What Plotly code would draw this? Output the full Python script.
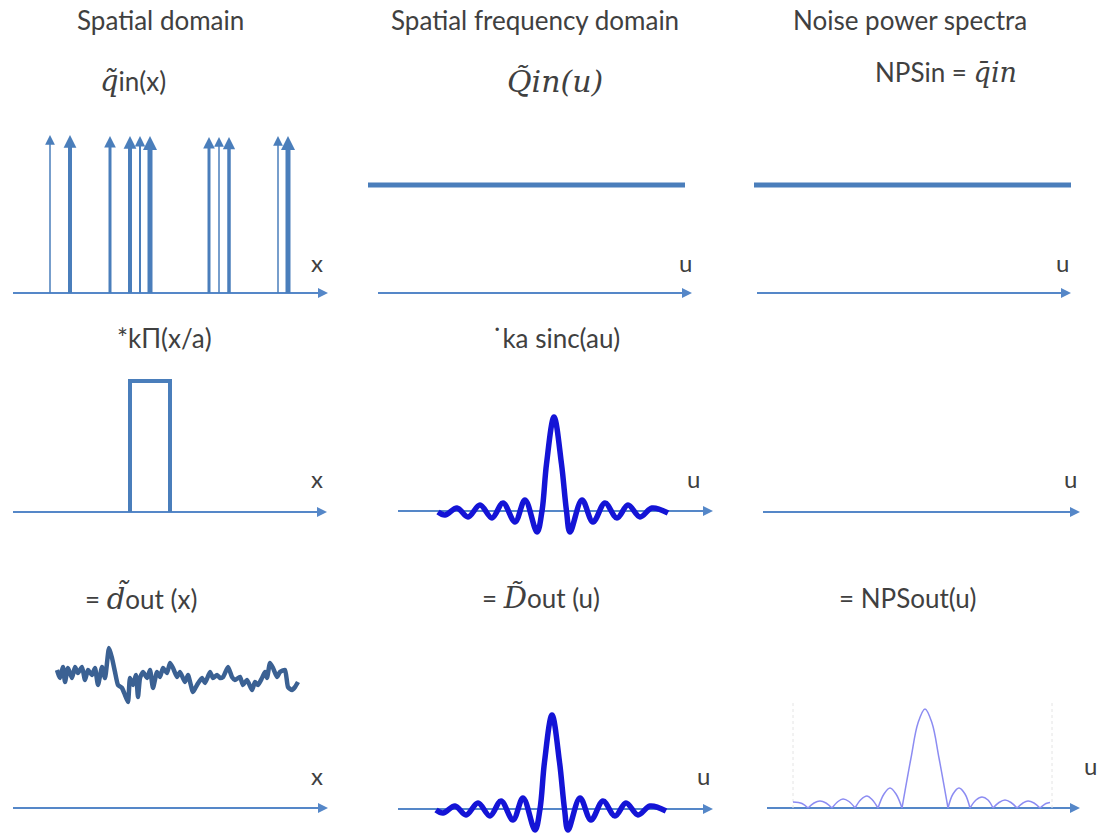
import plotly.graph_objects as go

W, H = 1102, 833
INK = "#404040"
BLUE = "#4a7ebb"
AXIS_BLUE = "#5587c8"
SINC_BLUE = "#1414d6"
NOISE_BLUE = "#3b6193"
NPS_BLUE = "#8c8cf2"
SANS = "Lato"
SERIF = "DejaVu Serif"

# ---------------- data ----------------
# incident quanta: positions along x and (equal) impulse heights
QUANTA_X = [3.7, 5.7, 9.7, 11.7, 12.7, 13.7, 19.6, 20.6, 21.6, 26.5, 27.5]
QUANTA_H = [1.58, 1.58, 1.57, 1.57, 1.57, 1.57, 1.56, 1.56, 1.56, 1.57, 1.57]
# stroke widths of the individual impulses (style)
QUANTA_W = [1.5, 4, 3, 4, 2, 5, 3, 1.5, 3.5, 1.5, 5]

# flat (white) spectra of the input
QIN_U = [-1.0, 30.7]
QIN_V = [1.08, 1.08]
NPSIN_U = [-0.3, 31.4]
NPSIN_V = [1.08, 1.08]

# rectangular aperture k*Pi(x/a)
RECT_X = [11.7, 11.7, 15.7, 15.7]
RECT_Y = [0.0, 1.31, 1.31, 0.0]

# transfer function ka*sinc(au): extrema and zero crossings
SINC_U = [-11.6, -10.9, -9.7, -8.6, -7.4, -6.2, -5.1, -3.9, -2.9, -1.7, -1.2,
          -0.75, 0.0, 0.75, 1.25, 1.6, 2.8, 3.9, 5.1, 6.3, 7.4, 8.6, 9.8, 11.4]
SINC_V = [-0.01, -0.04, 0.03, -0.06, 0.06, -0.07, 0.08, -0.11, 0.11, -0.21, 0.0,
          0.47, 0.94, 0.47, 0.0, -0.21, 0.11, -0.11, 0.08, -0.07, 0.06, -0.06, 0.03, -0.02]

# output spectrum D(u) = Q(u) * ka sinc(au)  (flat input -> same shape)
DOUT_U = SINC_U
DOUT_V = SINC_V

# output image d(x): noisy realisation
NOISE_X = [4.4, 4.7, 5.0, 5.2, 5.5, 5.9, 6.2, 6.5, 6.9, 7.2, 7.5, 7.9, 8.2, 8.5, 8.9,
           9.2, 9.6, 9.9, 10.2, 10.5, 10.9, 11.2, 11.5, 11.7, 12.0, 12.3, 12.5, 12.7,
           13.0, 13.4, 13.7, 14.0, 14.4, 14.7, 15.0, 15.4, 15.7, 16.0, 16.4, 16.7,
           17.2, 17.5, 18.0, 18.4, 18.9, 19.2, 19.7, 20.0, 20.4, 20.7, 21.0, 21.5,
           21.9, 22.2, 22.7, 23.0, 23.4, 23.9, 24.2, 24.5, 24.9, 25.2, 25.4, 25.7,
           26.0, 26.4, 26.7, 27.2, 27.5, 27.9, 28.2, 28.5]
NOISE_Y = [1.38, 1.30, 1.41, 1.26, 1.40, 1.30, 1.41, 1.35, 1.41, 1.28, 1.38, 1.33,
           1.40, 1.23, 1.41, 1.30, 1.60, 1.50, 1.36, 1.23, 1.20, 1.13, 1.06, 1.30,
           1.23, 1.33, 1.11, 1.30, 1.36, 1.30, 1.38, 1.20, 1.36, 1.31, 1.40, 1.35,
           1.45, 1.40, 1.31, 1.36, 1.26, 1.33, 1.16, 1.23, 1.30, 1.25, 1.36, 1.30,
           1.33, 1.30, 1.31, 1.41, 1.31, 1.28, 1.31, 1.23, 1.28, 1.18, 1.26, 1.23,
           1.30, 1.36, 1.30, 1.45, 1.40, 1.31, 1.36, 1.38, 1.21, 1.18, 1.21, 1.26]

# output noise power spectrum: one arch per lobe (None separates lobes)
NPS_U = [-13.2, -12.3, -11.7, None,
         -11.7, -11.1, -10.5, -9.9, -9.3, None,
         -9.3, -8.7, -8.2, -7.6, -7.0, None,
         -7.0, -6.4, -5.8, -5.3, -4.7, None,
         -4.7, -4.1, -3.5, -2.9, -2.3, None,
         -2.3, -1.4, -0.7, 0.0, 0.7, 1.4, 2.3, None,
         2.3, 2.8, 3.4, 4.0, 4.5, None,
         4.5, 5.1, 5.7, 6.3, 6.8, None,
         6.8, 7.4, 8.0, 8.6, 9.2, None,
         9.2, 9.8, 10.3, 10.9, 11.5, None,
         11.5, 12.1, 12.5]
NPS_V = [0.06, 0.045, 0.0, None,
         0.0, 0.05, 0.07, 0.05, 0.0, None,
         0.0, 0.065, 0.09, 0.065, 0.0, None,
         0.0, 0.085, 0.12, 0.085, 0.0, None,
         0.0, 0.14, 0.20, 0.14, 0.0, None,
         0.0, 0.50, 0.85, 0.99, 0.85, 0.50, 0.0, None,
         0.0, 0.14, 0.20, 0.14, 0.0, None,
         0.0, 0.08, 0.11, 0.08, 0.0, None,
         0.0, 0.055, 0.08, 0.055, 0.0, None,
         0.0, 0.05, 0.07, 0.05, 0.0, None,
         0.0, 0.045, 0.055]
NPS_FRAME_U = [-13.2, 12.7]

# ---------------- panel geometry ----------------
# each panel: pixel origin of its data x=0, pixel baseline, axis arrow extent
PANELS = [
    dict(px0=13,  base=293, a0=0.0,   a1=31.5),   # 1 quanta
    dict(px0=378, base=293, a0=0.0,   a1=31.4),   # 2 Q(u)
    dict(px0=757, base=293, a0=0.0,   a1=31.4),   # 3 NPS in
    dict(px0=13,  base=512, a0=0.0,   a1=31.4),   # 4 aperture
    dict(px0=554, base=511, a0=-15.6, a1=15.9),   # 5 sinc
    dict(px0=763, base=512, a0=0.0,   a1=31.7),   # 6 empty
    dict(px0=13,  base=808, a0=0.0,   a1=31.5),   # 7 d(x)
    dict(px0=552, base=809, a0=-15.4, a1=16.1),   # 8 D(u)
    dict(px0=925, base=808, a0=-15.8, a1=15.5),   # 9 NPS out
]
XS, YS = 10.0, 100.0   # pixels per data unit

fig = go.Figure()
layout = {}


def ids(i):
    return ("x" if i == 1 else f"x{i}", "y" if i == 1 else f"y{i}")


for i, p in enumerate(PANELS, start=1):
    xk = "xaxis" if i == 1 else f"xaxis{i}"
    yk = "yaxis" if i == 1 else f"yaxis{i}"
    xa = dict(domain=[0, 1], range=[-p["px0"] / XS, (W - p["px0"]) / XS],
              visible=False, fixedrange=True)
    ya = dict(domain=[0, 1], range=[(p["base"] - H) / YS, p["base"] / YS],
              visible=False, fixedrange=True)
    if i > 1:
        xa["overlaying"] = "x"
        ya["overlaying"] = "y"
    layout[xk] = xa
    layout[yk] = ya


def add(i, x, y, **kw):
    xa, ya = ids(i)
    kw.setdefault("hoverinfo", "skip")
    fig.add_trace(go.Scatter(x=x, y=y, xaxis=xa, yaxis=ya, showlegend=False, **kw))


# horizontal axis arrows
HEAD = 10
for i, p in enumerate(PANELS, start=1):
    add(i, [p["a0"], p["a1"] - 0.4], [0, 0], mode="lines",
        line=dict(color=AXIS_BLUE, width=2))
    add(i, [p["a1"]], [0], mode="markers",
        marker=dict(symbol="arrow-right", size=HEAD, color=AXIS_BLUE, line=dict(width=0)))

# panel 1: impulses
for xq, hq, wq in zip(QUANTA_X, QUANTA_H, QUANTA_W):
    s = 8 + 1.2 * wq
    add(1, [xq, xq], [0, hq - 0.5 * s / YS], mode="lines",
        line=dict(color=BLUE, width=wq))
    add(1, [xq], [hq], mode="markers",
        marker=dict(symbol="arrow-up", size=s, color=BLUE, line=dict(width=0)))

# panel 2 / 3: flat spectra
add(2, QIN_U, QIN_V, mode="lines", line=dict(color=BLUE, width=5))
add(3, NPSIN_U, NPSIN_V, mode="lines", line=dict(color=BLUE, width=5))

# panel 4: aperture
add(4, RECT_X, RECT_Y, mode="lines", line=dict(color=BLUE, width=4))

# panel 5 / 8: sinc transfer and output spectrum
add(5, SINC_U, SINC_V, mode="lines",
    line=dict(color=SINC_BLUE, width=5.5, shape="spline", smoothing=1.0))
add(8, DOUT_U, DOUT_V, mode="lines",
    line=dict(color=SINC_BLUE, width=5.5, shape="spline", smoothing=1.0))

# panel 7: noisy output
add(7, NOISE_X, NOISE_Y, mode="lines",
    line=dict(color=NOISE_BLUE, width=4.5, shape="spline", smoothing=0.5))

# panel 9: output NPS with faint frame
for uf in NPS_FRAME_U:
    add(9, [uf, uf], [0.0, 1.08], mode="lines",
        line=dict(color="#e4e4e4", width=1, dash="dot"))
add(9, NPS_U, NPS_V, mode="lines", connectgaps=False,
    line=dict(color=NPS_BLUE, width=1.5, shape="spline", smoothing=1.0))

# ---------------- text ----------------
ann = []
TXT = 26
MATH = 29


def paper_text(px, py, text, size=TXT, family=SANS):
    ann.append(dict(x=px / W, y=1 - py / H, xref="paper", yref="paper", text=text,
                    showarrow=False, xanchor="center", yanchor="middle",
                    font=dict(family=family, size=size, color=INK)))


def axis_text(i, x, y, text):
    xa, ya = ids(i)
    ann.append(dict(x=x, y=y, xref=xa, yref=ya, text=text, showarrow=False,
                    xanchor="center", yanchor="middle",
                    font=dict(family=SANS, size=24, color=INK)))


def ser(t, size=MATH):
    return f"<span style=\"font-family:'{SERIF}';font-size:{size}px\"><i>{t}</i></span>"


paper_text(160, 20, "Spatial domain")
paper_text(535, 20, "Spatial frequency domain")
paper_text(910, 20, "Noise power spectra")

paper_text(133, 81, ser("q\u0303") + "in(x)")
paper_text(555, 81, ser("Q\u0303in(u)", 30))
paper_text(946, 72, "NPSin = " + ser("q\u0304in", 27))

paper_text(164, 338, "*k\u03a0(x/a)")
paper_text(556, 338, "\u02d9ka sinc(au)")

paper_text(141, 598, "= " + ser("d\u0303") + "out (x)")
paper_text(541, 598, "= " + ser("D\u0303") + "out (u)")
paper_text(907, 598, "= NPSout(u)")

axis_text(1, 30.4, 0.31, "x")
axis_text(2, 30.7, 0.31, "u")
axis_text(3, 30.5, 0.31, "u")
axis_text(4, 30.4, 0.34, "x")
axis_text(5, 13.9, 0.33, "u")
axis_text(6, 30.7, 0.34, "u")
axis_text(7, 30.4, 0.33, "x")
axis_text(8, 15.1, 0.34, "u")
axis_text(9, 16.5, 0.43, "u")

fig.update_layout(
    width=W, height=H,
    margin=dict(l=0, r=0, t=0, b=0),
    paper_bgcolor="white", plot_bgcolor="white",
    annotations=ann,
    **layout,
)

fig.write_html("out.html", config=dict(displayModeBar=False))
